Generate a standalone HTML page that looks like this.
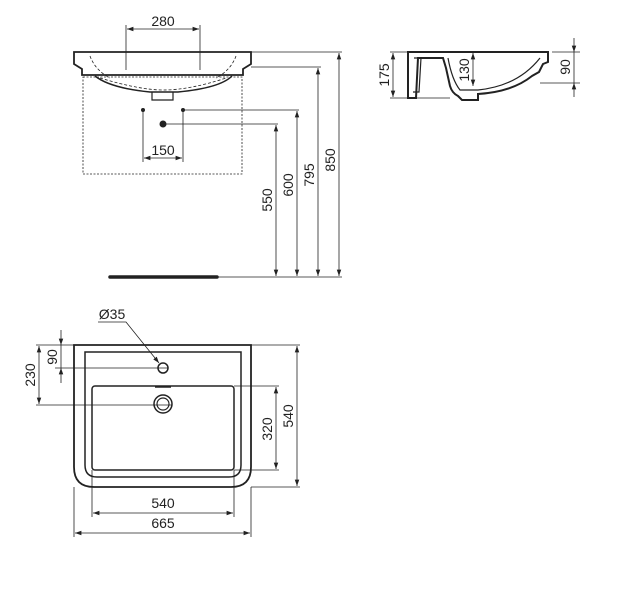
<!DOCTYPE html>
<html><head><meta charset="utf-8"><style>
html,body{margin:0;padding:0;background:#fff;}
svg text{font-family:"Liberation Sans",Arial,sans-serif;font-size:14px;fill:#222;}
</style></head><body>
<svg width="639" height="597" viewBox="0 0 639 597" xmlns="http://www.w3.org/2000/svg">
<defs>
<marker id="a" viewBox="0 0 10 10" refX="10" refY="5" markerWidth="8" markerHeight="8" orient="auto-start-reverse"><path d="M0,1.5 L10,5 L0,8.5 z" fill="#222"/></marker>
</defs>
<g stroke="#222" fill="none" stroke-width="0.8">
<!-- FRONT VIEW -->
<path d="M74,52 L251,52 L251,64 L243,69 L243,75 L82,75 L82,69 L74,64 Z" stroke-width="1.8"/>
<path d="M95,76 Q110,88 150,92 L178,92 Q220,88 232,76" stroke-width="1.5"/>
<path d="M152,92 L152,100 L173,100 L173,92" stroke-width="1.2"/>
<path d="M90,56 Q95,70 110,78 M236,56 Q231,70 216,78" stroke-dasharray="3,2"/>
<path d="M100,78 Q140,90 163,90 Q190,90 226,78" stroke-dasharray="3,2"/>
<rect x="83" y="77" width="159" height="97" stroke-dasharray="2,1.5"/>
<line x1="126" y1="25" x2="126" y2="70"/><line x1="200" y1="25" x2="200" y2="70"/>
<line x1="127" y1="29" x2="199" y2="29" marker-start="url(#a)" marker-end="url(#a)"/>
<line x1="143" y1="110" x2="143" y2="162"/><line x1="183" y1="110" x2="183" y2="162"/>
<line x1="144" y1="158" x2="182" y2="158" marker-start="url(#a)" marker-end="url(#a)"/>
<line x1="251" y1="52" x2="342" y2="52"/>
<line x1="251" y1="67" x2="321" y2="67"/>
<line x1="183" y1="110" x2="299" y2="110"/>
<line x1="163" y1="124" x2="278" y2="124"/>
<line x1="218" y1="277" x2="342" y2="277"/>
<line x1="339" y1="53" x2="339" y2="276" marker-start="url(#a)" marker-end="url(#a)"/>
<line x1="318" y1="68" x2="318" y2="276" marker-start="url(#a)" marker-end="url(#a)"/>
<line x1="297" y1="111" x2="297" y2="276" marker-start="url(#a)" marker-end="url(#a)"/>
<line x1="276" y1="125" x2="276" y2="276" marker-start="url(#a)" marker-end="url(#a)"/>
<line x1="110" y1="277" x2="217" y2="277" stroke-width="3.5" stroke-linecap="round"/>

<!-- SIDE VIEW -->
<path d="M408,52 L548,52 L548,62 L543,64 L539,72 L532,76 Q512,92 478,94 L478,100 L462,100 L458,96 Q452,93 450,86 L446,68 L443,58 L418,58 L416,98 L408,98 Z" stroke-width="2"/>
<path d="M448,58 Q452,80 460,90 L478,90 Q518,86 540,58" stroke-width="1.2"/>
<path d="M414,58 L421,58 L419,92 L413,92" stroke-width="1.2"/>
<line x1="390" y1="52" x2="408" y2="52"/><line x1="390" y1="98" x2="450" y2="98"/>
<line x1="393" y1="53" x2="393" y2="97" marker-start="url(#a)" marker-end="url(#a)"/>
<line x1="473" y1="53" x2="473" y2="86" marker-start="url(#a)" marker-end="url(#a)"/>
<line x1="552" y1="52" x2="580" y2="52"/><line x1="540" y1="83" x2="580" y2="83"/>
<line x1="574" y1="38" x2="574" y2="52" marker-end="url(#a)"/>
<line x1="574" y1="97" x2="574" y2="83" marker-end="url(#a)"/>
<line x1="574" y1="52" x2="574" y2="83"/>

<!-- PLAN VIEW -->
<path d="M74,345 L251,345 L251,467 Q251,487 231,487 L94,487 Q74,487 74,467 Z" stroke-width="1.8"/>
<path d="M85,352 L241,352 L241,465 Q241,477 229,477 L97,477 Q85,477 85,465 Z" stroke-width="1.5"/>
<rect x="92" y="386" width="142" height="84" rx="3" stroke-width="1.5"/>
<circle cx="163" cy="368" r="5" stroke-width="1.5"/>
<circle cx="163" cy="404" r="9" stroke-width="1.5"/>
<circle cx="163" cy="404" r="6" stroke-width="1.2"/>
<line x1="155" y1="387" x2="171" y2="387" stroke-width="1.5"/>
<polyline points="98,322 126,322 159,363" marker-end="url(#a)"/>
<line x1="36" y1="345" x2="74" y2="345"/>
<line x1="55" y1="368" x2="168" y2="368"/>
<line x1="36" y1="405" x2="172" y2="405"/>
<line x1="61" y1="330" x2="61" y2="345" marker-end="url(#a)"/>
<line x1="61" y1="383" x2="61" y2="368" marker-end="url(#a)"/>
<line x1="61" y1="345" x2="61" y2="368"/>
<line x1="39" y1="346" x2="39" y2="404" marker-start="url(#a)" marker-end="url(#a)"/>
<line x1="251" y1="345" x2="300" y2="345"/>
<line x1="234" y1="386" x2="279" y2="386"/>
<line x1="234" y1="470" x2="279" y2="470"/>
<line x1="251" y1="487" x2="300" y2="487"/>
<line x1="297" y1="346" x2="297" y2="486" marker-start="url(#a)" marker-end="url(#a)"/>
<line x1="276" y1="387" x2="276" y2="469" marker-start="url(#a)" marker-end="url(#a)"/>
<line x1="92" y1="470" x2="92" y2="517"/><line x1="234" y1="470" x2="234" y2="517"/>
<line x1="74" y1="487" x2="74" y2="537"/><line x1="251" y1="487" x2="251" y2="537"/>
<line x1="93" y1="513" x2="233" y2="513" marker-start="url(#a)" marker-end="url(#a)"/>
<line x1="75" y1="533" x2="250" y2="533" marker-start="url(#a)" marker-end="url(#a)"/>
</g>
<g fill="#222" stroke="none">
<circle cx="143" cy="110" r="2"/><circle cx="183" cy="110" r="2"/><circle cx="163" cy="124" r="3.5"/>
</g>
<text x="163" y="26" text-anchor="middle">280</text>
<text x="163" y="155" text-anchor="middle">150</text>
<text transform="translate(272,200) rotate(-90)" text-anchor="middle">550</text>
<text transform="translate(293,185) rotate(-90)" text-anchor="middle">600</text>
<text transform="translate(314,175) rotate(-90)" text-anchor="middle">795</text>
<text transform="translate(335,160) rotate(-90)" text-anchor="middle">850</text>
<text transform="translate(389,75) rotate(-90)" text-anchor="middle">175</text>
<text transform="translate(469,70) rotate(-90)" text-anchor="middle">130</text>
<text transform="translate(570,67) rotate(-90)" text-anchor="middle">90</text>
<text x="112" y="319" text-anchor="middle">Ø35</text>
<text transform="translate(57,357) rotate(-90)" text-anchor="middle">90</text>
<text transform="translate(35,375) rotate(-90)" text-anchor="middle">230</text>
<text transform="translate(272,429) rotate(-90)" text-anchor="middle">320</text>
<text transform="translate(293,416) rotate(-90)" text-anchor="middle">540</text>
<text x="163" y="508" text-anchor="middle">540</text>
<text x="163" y="528" text-anchor="middle">665</text>
</svg>
</body></html>
